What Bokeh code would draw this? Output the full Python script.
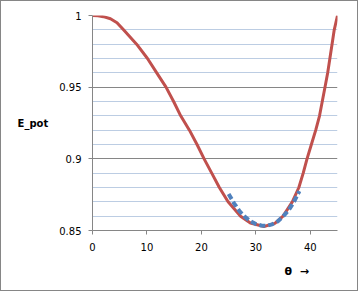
from bokeh.plotting import figure
from bokeh.models import FixedTicker, CustomJSTickFormatter, Title, Range1d
from bokeh.embed import file_html
from bokeh.resources import INLINE

# Red curve: potential energy vs theta
theta = [0, 1, 2, 3.3, 4.5, 5.7, 8.1, 10.1, 11.8, 13.5, 14.9, 16.2, 17.8, 19.2, 20.5,
         21.9, 23.3, 24.9, 27.2, 29, 31.5, 33.5, 35, 36.7, 37.9, 38.7, 39.4, 40.2,
         41.0, 41.7, 42.2, 42.7, 43.2, 43.6, 44.0, 44.4, 45]
e_pot = [1.0, 0.9998, 0.9992, 0.9977, 0.995, 0.99, 0.98, 0.97, 0.96, 0.95, 0.94, 0.93,
         0.92, 0.91, 0.90, 0.89, 0.88, 0.87, 0.86, 0.8552, 0.8528, 0.855, 0.86, 0.87,
         0.88, 0.89, 0.90, 0.91, 0.92, 0.93, 0.94, 0.95, 0.96, 0.97, 0.98, 0.99, 1.0]

# Blue dashed fit near the minimum
fit_theta = [25, 26, 27, 28, 29, 30, 31, 32, 33, 34, 35, 36, 37, 38]
fit_e = [0.8755, 0.8690, 0.8635, 0.8595, 0.8565, 0.8545, 0.8535, 0.8533, 0.8543,
         0.8563, 0.8598, 0.8640, 0.8700, 0.8775]

x_ticks = [0, 10, 20, 30, 40]
y_ticks = [0.85, 0.9, 0.95, 1.0]
y_minor = [0.86, 0.87, 0.88, 0.89, 0.91, 0.92, 0.93, 0.94, 0.96, 0.97, 0.98, 0.99]
y_label = "E_pot"
x_label = "θ\u00a0\u00a0→"

GRAY = "#868686"
FONT = "DejaVu Sans"

p = figure(width=358, height=291, output_backend="svg", toolbar_location=None,
           x_range=Range1d(0, 45), y_range=Range1d(0.85, 1.0),
           min_border_left=91, min_border_right=22, min_border_top=14, min_border_bottom=62)
p.styles = {"border": "1px solid " + GRAY}
p.outline_line_color = None
p.background_fill_color = "white"
p.border_fill_color = "white"

yt = FixedTicker(ticks=y_ticks, minor_ticks=y_minor)
xt = FixedTicker(ticks=x_ticks)
p.yaxis.ticker = yt
p.xaxis.ticker = xt
p.ygrid.ticker = yt
p.xgrid.visible = False
p.ygrid.grid_line_color = GRAY
p.ygrid.minor_grid_line_color = "#BCCDE3"

p.yaxis.formatter = CustomJSTickFormatter(code="return String(Number(tick.toFixed(2)));")
for ax in (p.xaxis, p.yaxis):
    ax.axis_line_color = GRAY
    ax.major_tick_line_color = GRAY
    ax.major_tick_out = 4
    ax.major_tick_in = 0
    ax.minor_tick_line_color = None
    ax.major_label_text_font = FONT
    ax.major_label_text_font_size = "10px"
    ax.major_label_text_color = "black"
p.yaxis.major_label_standoff = 7
p.xaxis.major_label_standoff = 8

p.yaxis.axis_label = y_label
p.yaxis.axis_label_orientation = "horizontal"
p.yaxis.axis_label_standoff = 8
p.yaxis.axis_label_text_font = FONT
p.yaxis.axis_label_text_font_size = "10px"
p.yaxis.axis_label_text_font_style = "bold"
p.yaxis.axis_label_text_color = "black"

p.line(theta, e_pot, line_color="#C0504D", line_width=3)
p.line(fit_theta, fit_e, line_color="#4F81BD", line_width=4, line_dash="6 3")

t = Title(text=x_label, align="left", offset=192, standoff=19, text_font=FONT,
          text_font_size="11px", text_font_style="bold", text_color="black")
p.add_layout(t, "below")

open("out.html", "w").write(file_html(p, INLINE))
